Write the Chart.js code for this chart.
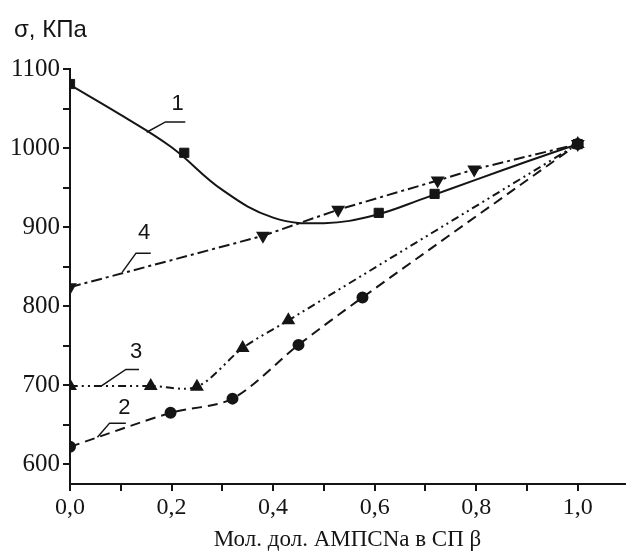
<!DOCTYPE html>
<html>
<head>
<meta charset="utf-8">
<script src="https://cdn.jsdelivr.net/npm/chart.js@4.4.1/dist/chart.umd.min.js"></script>
<style>
  html, body { margin: 0; padding: 0; background: #fff; }
  #wrap { width: 633px; height: 554px; }
</style>
</head>
<body>
<div id="wrap"><canvas id="chart" width="633" height="554"></canvas></div>
<script>
// axis ticks
const xTicks = [0, 0.1, 0.2, 0.3, 0.4, 0.5, 0.6, 0.7, 0.8, 0.9, 1.0];
const yTicks = [600, 650, 700, 750, 800, 850, 900, 950, 1000, 1050, 1100];

const s1x = [0, 0.225, 0.608, 0.718, 1.0];
const s1y = [1081, 994, 918, 942, 1005];
const fit1x = [0, 0.1, 0.2, 0.3, 0.4, 0.5, 0.6, 0.7, 0.8, 0.9, 1.0];
const fit1y = [1080, 1042, 1001, 947, 912, 905, 915, 937, 960, 983, 1005];

// curve 2 - circles
const s2x = [0, 0.198, 0.32, 0.45, 0.576, 1.0];
const s2y = [622, 665, 683, 751, 811, 1005];

// curve 3 - triangles
const s3x = [0, 0.159, 0.25, 0.34, 0.43, 1.0];
const s3y = [699, 699, 698, 747, 782, 1005];

// curve 4 - inverted triangles
const s4x = [0, 0.38, 0.528, 0.724, 0.796, 1.0];
const s4y = [824, 889, 922, 959, 973, 1005];

const pts = (xs, ys) => xs.map((x, i) => ({ x, y: ys[i] }));
const ink = '#151515';
const serif = '"Liberation Serif", "Times New Roman", serif';

// number labels with leader lines (data coords)
const callouts = [
    { text: '1', line: [[0.151, 1020], [0.188, 1033], [0.227, 1033]], at: [0.212, 1056] },
    { text: '4', line: [[0.103, 843], [0.13, 867], [0.159, 867]], at: [0.146, 892] },
    { text: '3', line: [[0.062, 699], [0.11, 720], [0.136, 720]], at: [0.13, 742] },
    { text: '2', line: [[0.054, 634], [0.078, 652], [0.11, 652]], at: [0.107, 671] }
];

const decor = {
    id: 'decor',
    afterDatasetsDraw(chart) {
        const { ctx, scales: { x, y } } = chart;
        ctx.save();
        ctx.strokeStyle = ink;
        ctx.fillStyle = ink;
        ctx.lineWidth = 1.5;
        ctx.font = '22px "Liberation Sans", Arial, sans-serif';
        ctx.textAlign = 'center';
        ctx.textBaseline = 'middle';
        callouts.forEach(c => {
            ctx.beginPath();
            c.line.forEach(([vx, vy], i) => {
                const px = x.getPixelForValue(vx), py = y.getPixelForValue(vy);
                i ? ctx.lineTo(px, py) : ctx.moveTo(px, py);
            });
            ctx.stroke();
            ctx.fillText(c.text, x.getPixelForValue(c.at[0]), y.getPixelForValue(c.at[1]));
        });
        // axis title on top
        ctx.textAlign = 'left';
        ctx.textBaseline = 'alphabetic';
        ctx.font = '24px "Liberation Sans", Arial, sans-serif';
        ctx.fillText('σ, КПа', 14, 37);
        ctx.restore();
    }
};

const ctx = document.getElementById('chart').getContext('2d');
new Chart(ctx, {
    type: 'scatter',
    data: {
        datasets: [
            {
                data: pts(fit1x, fit1y), showLine: true, borderColor: ink, borderWidth: 2,
                pointRadius: 0, tension: 0.4
            },
            {
                data: pts(s1x, s1y), showLine: false, pointStyle: 'rect', pointRadius: 6.5,
                backgroundColor: ink, borderColor: ink
            },
            {
                data: pts(s2x, s2y), showLine: true, borderColor: ink, borderWidth: 2,
                borderDash: [10, 6], tension: 0.3, pointStyle: 'circle', pointRadius: 5,
                backgroundColor: ink, pointBorderColor: ink
            },
            {
                data: pts(s3x, s3y), showLine: true, borderColor: ink, borderWidth: 2,
                borderDash: [8, 4, 2, 4, 2, 4], tension: 0.3, pointStyle: 'triangle', pointRadius: 6,
                backgroundColor: ink, pointBorderColor: ink
            },
            {
                data: pts(s4x, s4y), showLine: true, borderColor: ink, borderWidth: 2,
                borderDash: [11, 4, 3, 4], tension: 0, pointStyle: 'triangle', pointRotation: 180,
                pointRadius: 6, backgroundColor: ink, pointBorderColor: ink
            }
        ]
    },
    options: {
        responsive: false,
        animation: false,
        layout: { padding: { top: 69, right: 0, left: 0, bottom: 0 } },
        plugins: { legend: { display: false }, tooltip: { enabled: false } },
        scales: {
            x: {
                type: 'linear', min: 0, max: 1.093,
                afterBuildTicks: s => { s.ticks = xTicks.map(v => ({ value: v })); },
                afterFit: s => { s.height = 70; },
                ticks: {
                    autoSkip: false, maxRotation: 0, color: ink, padding: 2,
                    font: { family: serif, size: 24 },
                    callback: v => (Math.round(v * 10) % 2 === 0 ? v.toFixed(1).replace('.', ',') : '')
                },
                grid: { drawOnChartArea: false, color: ink, tickLength: 7, lineWidth: 2 },
                border: { color: ink, width: 2 },
                title: {
                    display: true, text: 'Мол. дол. АМПСNa в СП β', color: ink,
                    font: { family: serif, size: 23 },
                    padding: { top: 2, bottom: 0 }
                }
            },
            y: {
                type: 'linear', min: 575, max: 1100,
                afterBuildTicks: s => { s.ticks = yTicks.map(v => ({ value: v })); },
                afterFit: s => { s.width = 70; },
                ticks: {
                    autoSkip: false, color: ink, padding: 3,
                    font: { family: serif, size: 25 },
                    callback: v => (v % 100 === 0 ? String(v) : '')
                },
                grid: { drawOnChartArea: false, color: ink, tickLength: 7, lineWidth: 2 },
                border: { color: ink, width: 2 }
            }
        }
    },
    plugins: [decor]
});
</script>
</body>
</html>
